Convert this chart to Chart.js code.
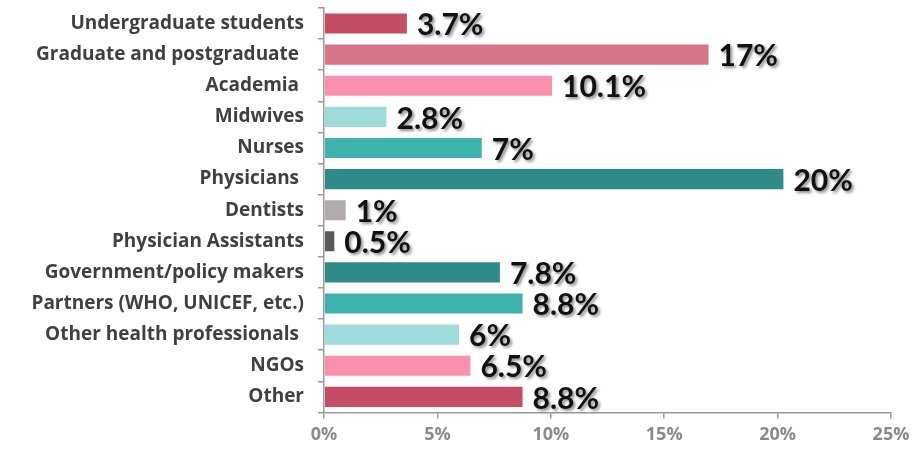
<!DOCTYPE html>
<html>
<head>
<meta charset="utf-8">
<script src="https://cdn.jsdelivr.net/npm/chart.js@4/dist/chart.umd.min.js"></script>
<style>
  html, body { margin: 0; padding: 0; background: #fff; }
  #wrap { width: 912px; height: 454px; }
</style>
</head>
<body>
<div id="wrap"><canvas id="bar-chart"></canvas></div>
<script>
var categories = ['Undergraduate students', 'Graduate and postgraduate ', 'Academia ', 'Midwives', 'Nurses', 'Physicians ', 'Dentists', 'Physician Assistants', 'Government/policy makers', 'Partners (WHO, UNICEF, etc.)', 'Other health professionals ', 'NGOs', 'Other'];
var values = [3.7, 17, 10.1, 2.8, 7, 20.3, 1, 0.5, 7.8, 8.8, 6, 6.5, 8.8];
var valueLabels = ['3.7%', '17%', '10.1%', '2.8%', '7%', '20%', '1%', '0.5%', '7.8%', '8.8%', '6%', '6.5%', '8.8%'];
var barColors = ['#c44d64', '#d57587', '#f991ae', '#9ddcda', '#3db2ae', '#2f8b88', '#b1abab', '#595959', '#2f8b88', '#3db2ae', '#9ddcda', '#f991ae', '#c44d64'];
var xTicks = [0, 5, 10, 15, 20, 25];

// labels drawn at the end of each bar, with a small shadow like the original
var endLabels = {
    id: 'endLabels',
    afterDatasetsDraw: function(chart) {
        var ctx = chart.ctx;
        var meta = chart.getDatasetMeta(0);
        ctx.save();
        ctx.font = 'bold 30px Lato';
        ctx.fillStyle = '#111';
        ctx.textBaseline = 'middle';
        ctx.shadowColor = 'rgba(0,0,0,0.45)';
        ctx.shadowBlur = 3;
        ctx.shadowOffsetX = 2;
        ctx.shadowOffsetY = 2;
        meta.data.forEach(function(bar, i) {
            ctx.fillText(valueLabels[i], bar.x + 9, bar.y + 2);
        });
        ctx.restore();
    }
};

var ctx = document.getElementById('bar-chart').getContext('2d');
var myChart = new Chart(ctx, {
    type: 'bar',
    data: {
        labels: categories,
        datasets: [{
            data: values,
            backgroundColor: barColors,
            borderColor: 'rgba(255,255,255,0.6)',
            borderWidth: 1,
            barPercentage: 0.71,
            categoryPercentage: 1
        }]
    },
    options: {
        indexAxis: 'y',
        responsive: true,
        maintainAspectRatio: false,
        animation: false,
        layout: { padding: { top: 8, right: 21, bottom: 2, left: 0 } },
        plugins: {
            legend: { display: false },
            tooltip: { enabled: false }
        },
        scales: {
            x: {
                min: 0,
                max: 25,
                afterBuildTicks: function(scale) {
                    scale.ticks = xTicks.map(function(v) { return { value: v }; });
                },
                afterFit: function(scale) { scale.paddingRight = 0; scale.paddingLeft = 0; },
                border: { color: '#9a9a9a', width: 1.5 },
                grid: { drawOnChartArea: false, color: '#9a9a9a', tickLength: 6, lineWidth: 1.5 },
                ticks: {
                    color: '#8a8a8a',
                    font: { family: 'Open Sans', size: 18, weight: 'bold' },
                    padding: 6,
                    maxRotation: 0,
                    callback: function(v) { return v + '%'; }
                }
            },
            y: {
                offset: true,
                afterFit: function(scale) { scale.width = 324; scale.paddingTop = 0; scale.paddingBottom = 0; },
                border: { color: '#9a9a9a', width: 1.5 },
                grid: { drawOnChartArea: false, offset: true, color: '#9a9a9a', tickLength: 6, lineWidth: 1.5 },
                ticks: {
                    color: '#404040',
                    font: { family: 'Open Sans', size: 19, weight: 'bold' },
                    padding: 14,
                    autoSkip: false
                }
            }
        }
    },
    plugins: [endLabels]
});
</script>
</body>
</html>
